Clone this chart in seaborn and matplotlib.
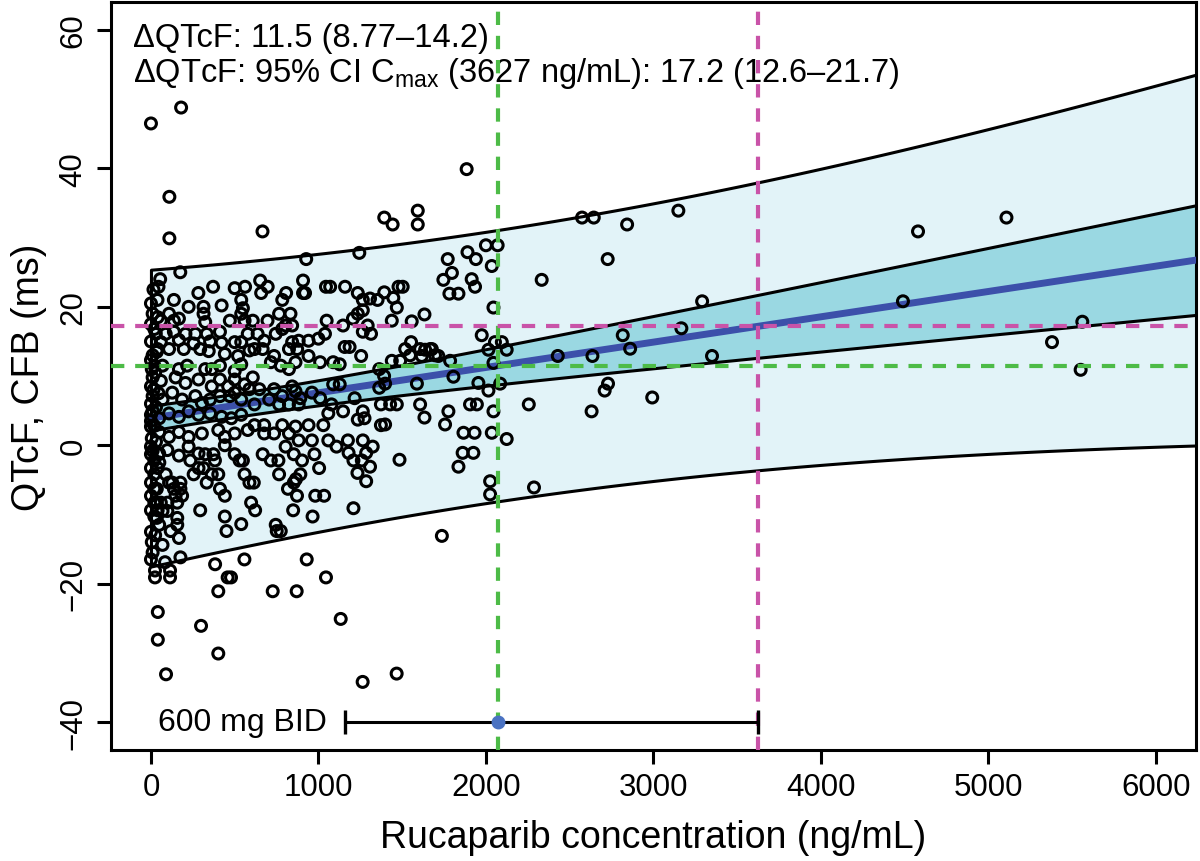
import numpy as np
import pandas as pd
import seaborn as sns
import matplotlib.pyplot as plt

# ---- observed points (rucaparib conc in ng/mL, QTcF change from baseline in ms) ----
# column of samples right at ~0 ng/mL
conc_zero = [0, 10, 0, 20, 0, 10, 0, 25, 0, 15, 0, 30, 0, 20, 5, 30, 10, 0, 20, 0,
             20, 0, 20, 0, 20, 0, 20, 35, 40, 35, 35, 40, 45, 50, 0, 5, 10, 25, 0, 15,
             40, 5, 35, 45, 10]
qtcf_zero = [20.5, 19, 17.5, 16.8, 15, 13, 12.3, 10.5, 8.5, 8, 6, 5.5, 3.5, 2.8, 1, 0.5, -0.8, -1.3, -2.2, -3.3,
             -4.2, -5.4, -6.3, -7.3, -8.3, -9.4, -10.3, -10.5, -9.4, -8.3, -6.3, -3.3, -1.3, -2.5, -12.5, -14, -15.5, -13, -16.5, 22.5,
             18.5, 11, 13.5, 7.5, 5]

# dense cluster 0-600 ng/mL
conc_low = [500, 137, 225, 314, 422, 539, 549, 39,
            59, 108, 137, 167, 314, 324, 471, 539, 559,
            29, 88, 137, 206, 265, 333, 412, 500, 539, 578,
            59, 167, 255, 353, 422,
            39, 108, 196, 294, 345, 441, 520, 588,
            20, 69, 167, 216, 324, 363, 412, 500, 539,
            10, 59, 147, 206, 284, 363, 412, 461, 500, 559, 588,
            10, 69, 127, 186, 265, 304, 353, 412, 471, 539, 500,
            0, 49, 108, 167, 225, 284, 353, 422, 480, 539,
            0, 49, 108, 167, 225, 304, 402, 441, 500, 578,
            0, 49, 98, 167, 225, 284, 441]
qtcf_low = [22.7, 21, 20, 20, 20.2, 21, 19.8, 21,
            18, 19, 18, 18.3, 19, 17.8, 18, 19, 18,
            16.1, 16.1, 16.4, 16.1, 16.1, 16.1, 16.4, 14.9, 14.9, 16.1,
            14.9, 15.2, 14.7, 15.0, 14.8,
            13.9, 13.9, 13.9, 13.9, 13.6, 13.2, 12.9, 13.7,
            11.5, 11.5, 11, 11.5, 11, 11, 11.5, 10.7, 11.7,
            9.8, 9.3, 9.8, 9.0, 9.5, 8.5, 9.5, 8.5, 9.5, 8.8, 8.1,
            7.1, 6.6, 7.6, 6.6, 7.1, 6.1, 6.6, 7.1, 7.1, 6.6, 7.6,
            4.4, 3.9, 4.6, 4.1, 4.9, 4.4, 4.6, 4.1, 3.9, 4.4,
            2.7, 1.9, 1.2, 1.9, 1.2, 1.7, 2.2, 1.2, 1.7, 2.2,
            -0.2, -1.2, -0.7, -1.5, -0.2, -1.2, 0]

# dense cluster 600-1400 ng/mL
conc_mid = [784, 1235, 1265, 1353,
            765, 833, 1235, 1265,
            608, 696, 1049, 1206, 1294,
            804, 843, 1147,
            637, 745, 784, 1039, 1265, 1314,
            676, 843, 882, 941, 1000, 1157, 1186,
            618, 667, 735, 824, 873, 941, 1255,
            716, 775, 824, 863, 1010, 1088, 1127, 1363, 1392,
            608, 647, 735, 843, 863, 1088, 1127, 892,
            706, 784, 961, 1010, 1216, 1363, 618,
            765, 824, 882, 1078, 1147, 1265, 1059, 1373,
            618, 676, 784, 863, 941, 1029, 1235, 1275, 1373,
            676, 735, 824, 882, 961, 1059, 1108, 1176, 1265, 804, 1324]
qtcf_mid = [21.0, 22.0, 21.0, 21.0,
            19, 19, 19, 19.5,
            18, 18, 18, 18.3, 17.3,
            17.3, 17.3, 17.3,
            16.1, 16.1, 16.8, 16.1, 16.4, 16.1,
            15.1, 14.9, 15.1, 15.1, 15.4, 14.2, 14.2,
            13.9, 13.9, 12.9, 13.9, 13.9, 12.9, 12.9,
            12, 11.5, 11, 12, 12, 12, 11.7, 11, 10,
            9.8, 8.1, 8.1, 8.5, 7.8, 8.8, 8.8, 6.8,
            6.6, 7.1, 7.6, 6.8, 6.8, 8.3, 5.9,
            5.9, 5.9, 5.9, 5.9, 4.9, 4.9, 4.6, 5.9,
            2.9, 2.9, 2.9, 2.7, 2.9, 2.9, 3.7, 3.9, 2.9,
            1.7, 1.7, 1.7, 0.7, 0.7, 0.7, -0.2, 0.7, 0.7, -0.2, -0.2]

# negative changes below 1100 ng/mL
conc_neg = [324, 373, 500, 235, 382, 529, 549, 255, 284, 314,
            333, 363, 402, 412, 441, 559, 588, 614, 667, 716,
            761, 765, 853, 902, 976, 1004, 853, 892, 866, 818,
            872, 981, 1034, 598, 622, 849, 965, 294, 441, 451,
            539, 745, 751, 775, 147, 186, 176, 176, 127, 137,
            88, 108, 157, 98, 69, 98, 59, 69, 167, 118,
            157, 157, 49]
qtcf_neg = [-1.3, -1.3, -1.3, -2.2, -2.2, -2.2, -2.2, -4.2, -3.3, -3.3,
            -5.4, -4.2, -4.2, -6.3, -7.3, -4.2, -5.4, -5.4, -1.3, -2.2,
            -2.2, -4.2, -1.3, -2.2, -1.3, -3.3, -5.4, -4.2, -4.9, -6.3,
            -7.3, -7.3, -7.3, -8.3, -9.4, -9.4, -10.3, -9.4, -10.3, -12.4,
            -11.4, -11.5, -12.4, -12.4, -7.3, -7.3, -6.3, -5.4, -5.4, -6.3,
            -4.2, -5.4, -8.3, -8.3, -9.5, -9.5, -8.3, -14.4, -13.4, -12.4,
            -11.5, -10.5, -11.5]

# 1150-2150 ng/mL
conc_upper_mid = [2045, 1468, 1633, 1438, 1557, 1975,
                  1553, 1607, 1518, 1547, 1667, 1696, 1716, 1617, 1637, 1677,
                  1488, 1438, 1786, 2054, 2095, 2124, 2015, 2045, 1806, 1588, 1398, 1955, 2085, 2015,
                  1428, 1468, 1607, 1905, 1946, 1633, 1776, 1756, 2045, 1398, 1866, 1932, 2035, 2124,
                  1180, 1209, 1259, 1285, 1308, 1233, 1285, 1484, 1861, 1925, 1836, 2025, 2025, 1209, 1737]
qtcf_upper_mid = [19.9, 19.9, 18.9, 18.0, 17.9, 15.9,
                  14.9, 13.9, 13.9, 13.0, 13.9, 13.0, 12.9, 12.9, 13.8, 13.9,
                  12.2, 12.2, 12.2, 14.9, 14.9, 13.8, 13.8, 11.9, 9.9, 8.9, 8.9, 9.0, 8.9, 7.9,
                  5.9, 5.9, 5.9, 5.9, 5.9, 4.0, 4.9, 3.0, 4.9, 3.0, 1.8, 1.8, 1.8, 0.9,
                  -1.1, -2.2, -2.2, -1.1, -3.1, -4.0, -5.2, -2.1, -1.1, -1.1, -3.1, -5.2, -7.1, -9.1, -13.1]

# sparse high-concentration samples
conc_high = [2574, 2644, 2843, 3149, 2727, 2333, 3291, 4580, 5108, 4490, 3167, 2817, 2861,
             2429, 2636, 3350, 5561, 5380, 5551, 2729, 2709, 2993, 2256, 2631, 2287]
qtcf_high = [32.9, 32.9, 31.9, 33.9, 26.9, 23.9, 20.8, 30.9, 32.9, 20.8, 16.9, 15.9, 13.95,
             12.9, 12.9, 12.9, 17.85, 14.9, 10.9, 8.9, 7.9, 6.9, 5.9, 4.9, -6.1]

# large positive changes
conc_top = [0, 180, 110, 110, 666, 1885, 1393, 1443, 1593, 1593, 1244, 927, 175,
            2000, 2070, 1890, 1940, 1772, 2035, 1797, 1746, 1915, 1935, 1782, 1836, 1159, 1070,
            1308, 1393, 1447, 1478, 1503,
            55, 45, 283, 371, 562, 652, 697, 658, 807, 908, 908, 920, 1045]
qtcf_top = [46.5, 48.8, 35.9, 29.9, 30.9, 39.9, 32.9, 31.9, 33.9, 31.9, 27.8, 26.9, 25.0,
            28.9, 28.9, 27.9, 26.9, 26.9, 25.9, 24.9, 23.9, 24.0, 22.9, 21.9, 21.9, 22.9, 22.9,
            21.2, 22.1, 21.3, 22.9, 22.9,
            24.0, 22.9, 22.0, 22.9, 22.9, 23.8, 22.9, 22.0, 22.0, 23.8, 22.0, 22.0, 22.9]

# large negative changes
conc_bottom = [24, 24, 114, 114, 84, 41, 41, 90, 299, 402, 402, 383, 458, 478, 727, 870,
               1045, 1133, 1264, 1467, 558, 930, 176]
qtcf_bottom = [-18.1, -19.1, -18.1, -19.1, -16.9, -24.1, -28.1, -33.1, -26.1, -30.1, -21.1, -17.2,
               -19.1, -19.1, -21.1, -21.1, -19.1, -25.1, -34.2, -33.0, -16.5, -16.5, -16.2]

# ---- model summary ----
intercept = 3.92
slope = 0.00366
ci_var0, ci_curv, ci_center = 2.816, 1.81e-6, 484      # CI of mean
pi_var0, pi_curv, pi_center = 384.3, 1.868e-5, 2013    # prediction band
mean_conc = 2070
cmax_conc = 3627
dose_low = 1159
dqtcf_mean = 11.5
dqtcf_cmax = 17.2

x_ticks = [0, 1000, 2000, 3000, 4000, 5000, 6000]
y_ticks = [-40, -20, 0, 20, 40, 60]

line1 = "\u0394QTcF: 11.5 (8.77\u201314.2)"
line2 = "\u0394QTcF: 95% CI C$_{\\mathrm{max}}$ (3627 ng/mL): 17.2 (12.6\u201321.7)"

# ---- data frame ----
conc = conc_zero + conc_low + conc_mid + conc_neg + conc_upper_mid + conc_high + conc_top + conc_bottom
dqtcf = qtcf_zero + qtcf_low + qtcf_mid + qtcf_neg + qtcf_upper_mid + qtcf_high + qtcf_top + qtcf_bottom
df = pd.DataFrame({"conc": conc, "dqtcf": dqtcf})

sns.set_theme(style="ticks")
plt.rcParams['font.family'] = ['Liberation Sans', 'DejaVu Sans']
plt.rcParams['mathtext.fontset'] = 'custom'
plt.rcParams['mathtext.rm'] = 'Liberation Sans'
plt.rcParams['mathtext.it'] = 'Liberation Sans:italic'
plt.rcParams['mathtext.bf'] = 'Liberation Sans:bold'
plt.rcParams['text.color'] = 'black'
plt.rcParams['axes.labelcolor'] = 'black'
plt.rcParams['xtick.color'] = 'black'
plt.rcParams['ytick.color'] = 'black'

fig = plt.figure(figsize=(12, 8.62), dpi=100)
ax = fig.add_axes([0.0923, 0.1291, 0.9044, 0.8670])

grid = np.linspace(0, 6240, 300)
fit = intercept + slope * grid
ci_hw = np.sqrt(ci_var0 + ci_curv * (grid - ci_center) ** 2)
pi_hw = np.sqrt(pi_var0 + pi_curv * (grid - pi_center) ** 2)

ax.fill_between(grid, fit - pi_hw, fit + pi_hw, facecolor='#e2f3f8', edgecolor='black', linewidth=2.2, zorder=1)
ax.fill_between(grid, fit - ci_hw, fit + ci_hw, facecolor='#9ad8e2', edgecolor='black', linewidth=2.2, zorder=2)
sns.lineplot(x=grid, y=fit, color='#3c50aa', linewidth=5, ax=ax, zorder=3)

sns.scatterplot(data=df, x="conc", y="dqtcf", ax=ax, s=62, facecolor='none',
                edgecolor='black', linewidth=2.2, zorder=5, legend=False)

green = '#4dbb47'
pink = '#c953a8'
dash = (0, (3.2, 2.6))
ax.axhline(dqtcf_mean, color=green, lw=3, ls=dash, zorder=6)
ax.axvline(mean_conc, color=green, lw=3, ls=dash, zorder=6)
ax.axhline(dqtcf_cmax, color=pink, lw=3, ls=dash, zorder=6)
ax.axvline(cmax_conc, color=pink, lw=3, ls=dash, zorder=6)

# dose exposure range
ax.plot([dose_low, cmax_conc], [-40, -40], color='black', lw=2.2, zorder=7)
ax.plot([dose_low, cmax_conc], [-40, -40], ls='none', marker='|', ms=17, mew=2.4, color='black', zorder=7)
ax.plot([mean_conc], [-40], marker='o', ls='none', ms=9, color='#4a72c2', zorder=8)
ax.text(1050, -40, "600 mg BID", ha='right', va='center', fontsize=23)

ax.text(0.0205, 0.953, line1, transform=ax.transAxes, fontsize=23.5, va='center', ha='left')
ax.text(0.0205, 0.906, line2, transform=ax.transAxes, fontsize=23.5, va='center', ha='left')

ax.set_xlim(-240, 6240)
ax.set_ylim(-44, 64)
ax.set_xticks(x_ticks)
ax.set_yticks(y_ticks)
ax.tick_params(direction='out', length=10, width=2.2, labelsize=22.5, pad=6, color='black', labelcolor='black')
for lbl in ax.get_yticklabels():
    lbl.set_rotation(90)
    lbl.set_va('center')
for s in ax.spines.values():
    s.set_linewidth(2.2)
    s.set_color('black')

ax.set_xlabel("Rucaparib concentration (ng/mL)", fontsize=27, labelpad=12)
ax.set_ylabel("QTcF, CFB (ms)", fontsize=27, labelpad=8)

fig.savefig("out.png", dpi=100)
